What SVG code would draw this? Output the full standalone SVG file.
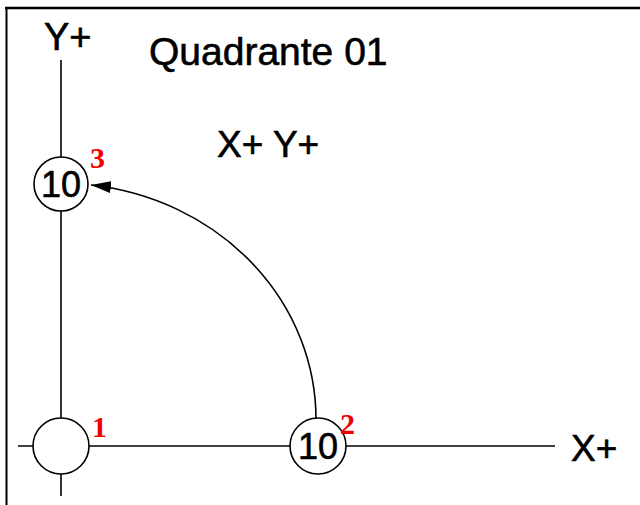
<svg xmlns="http://www.w3.org/2000/svg" width="640" height="505" viewBox="0 0 640 505">
<defs>
<style>
.ln{stroke:#000;stroke-width:1.6;fill:none}
.node{fill:#fff;stroke:#000;stroke-width:1.6}
.lbl{font-family:"Liberation Sans",Arial,sans-serif;fill:#000;stroke:#000;stroke-width:0.6}
.num{font-family:"Liberation Serif","Times New Roman",serif;font-weight:bold;font-size:30px;fill:#f00000}
</style>
<marker id="ah" markerWidth="22" markerHeight="12" refX="20" refY="6" orient="auto" markerUnits="userSpaceOnUse">
<path d="M0,0 L20,6 L0,12 Z" fill="#000"/>
</marker>
</defs>
<rect width="640" height="505" fill="#fff"/>
<g id="frame">
<line x1="5" y1="8" x2="640" y2="8" stroke="#000" stroke-width="2.6"/>
<line x1="6.5" y1="8" x2="6.5" y2="505" stroke="#000" stroke-width="2"/>
</g>
<g id="connectors">
<line class="ln" x1="61" y1="60" x2="61" y2="496"/>
<line class="ln" x1="18" y1="446" x2="555" y2="446"/>
<path class="ln" d="M316,420 A255,236 0 0 0 91,185" marker-end="url(#ah)"/>
</g>
<g id="axis-labels">
<text class="lbl" x="44" y="50" font-size="38">Y+</text>
<text class="lbl" x="149" y="65" font-size="39">Quadrante 01</text>
<text class="lbl" x="217" y="157" font-size="37">X+ Y+</text>
<text class="lbl" x="571" y="461" font-size="37">X+</text>
</g>
<g id="node1">
<circle class="node" cx="61" cy="446" r="28"/>
<text class="num" x="92" y="437">1</text>
</g>
<g id="node2">
<circle class="node" cx="318" cy="446" r="28"/>
<text class="lbl" x="318" y="459" font-size="36" text-anchor="middle">10</text>
<text class="num" x="340" y="434">2</text>
</g>
<g id="node3">
<circle class="node" cx="61" cy="184" r="27"/>
<text class="lbl" x="61" y="197" font-size="36" text-anchor="middle">10</text>
<text class="num" x="90" y="168">3</text>
</g>
</svg>
